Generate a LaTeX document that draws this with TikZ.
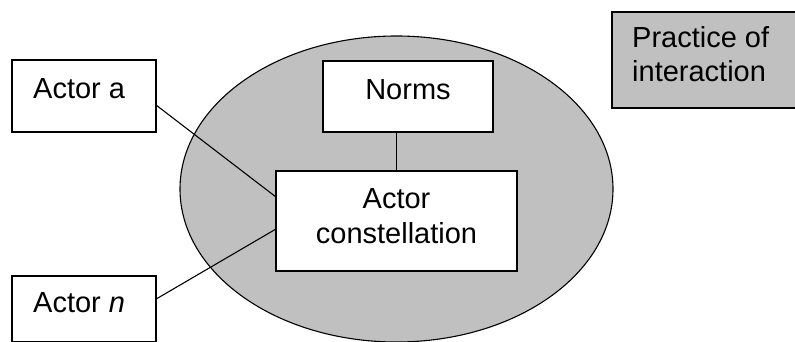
\documentclass[tikz,border=0pt]{standalone}
\usepackage{fontspec}
\setmainfont{Liberation Sans}
\usetikzlibrary{calc}
\definecolor{silver}{HTML}{C0C0C0}
\begin{document}
\begin{tikzpicture}[x=1pt,y=-1pt,
  box/.style={draw,line width=1.1pt,fill=white,inner sep=0pt,outer sep=0pt},
  lbl/.style={inner sep=0pt,font=\fontsize{29}{34.5}\selectfont},
  conn/.style={draw,line width=1.1pt}]
\useasboundingbox (0,0) rectangle (795,342);
% environment ellipse
\draw[line width=1.1pt,fill=silver] (396.5,189) ellipse [x radius=216.5, y radius=153];
% boxes
\node[box,minimum width=144pt,minimum height=72pt] (aa) at (84,96) {};
\node[box,minimum width=144pt,minimum height=66pt] (an) at (84,309) {};
\node[box,minimum width=170pt,minimum height=71pt] (norms) at (408,96.5) {};
\node[box,minimum width=241pt,minimum height=100pt] (cons) at (396.5,221) {};
\node[box,fill=silver,minimum width=188pt,minimum height=96pt,anchor=north west] (prac) at (612,12) {};
% texts
\node[lbl,anchor=base west] (aat) at (33,99) {Actor a};
\node[lbl,anchor=base west] (ant) at (33,312) {Actor \textit{n}};
\node[lbl,anchor=base] (normst) at (408,100) {Norms};
\node[lbl,anchor=base] (const1) at (396.5,208) {Actor};
\node[lbl,anchor=base] (const2) at (396.5,243) {constellation};
\node[lbl,anchor=base west] (prac1) at (632,48) {Practice of};
\node[lbl,anchor=base west] (prac2) at (632,82) {interaction};
% connectors
\coordinate (aaout) at ($(aa.north east)!0.625!(aa.south east)$);
\coordinate (consin1) at ($(cons.north west)!0.26!(cons.south west)$);
\coordinate (anout) at ($(an.north east)!0.35!(an.south east)$);
\coordinate (consin2) at ($(cons.north west)!0.58!(cons.south west)$);
\draw[conn] (aaout) -- (consin1);
\draw[conn] (anout) -- (consin2);
\draw[conn] (cons.north) -- (cons.north |- norms.south);
\end{tikzpicture}
\end{document}
